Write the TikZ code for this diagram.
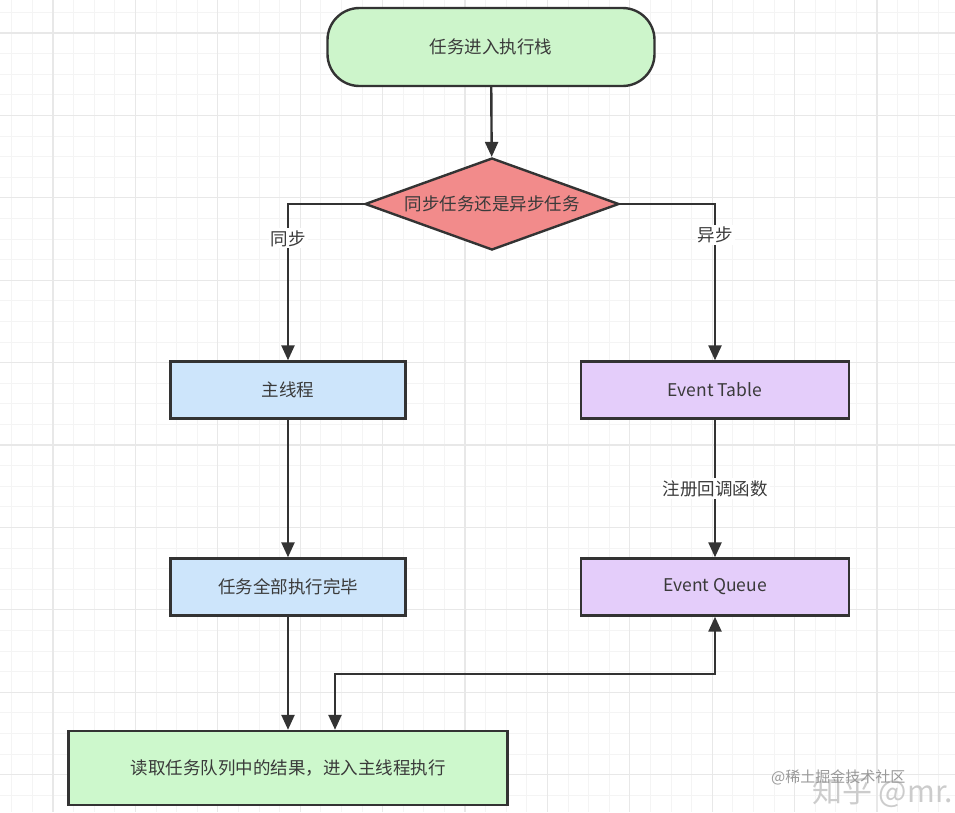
\documentclass[tikz,border=0pt]{standalone}
\usepackage{fontspec}
\setmainfont{Noto Sans CJK SC}
\usetikzlibrary{shapes.geometric,arrows.meta}
\definecolor{edgecol}{HTML}{333333}
\definecolor{txtcol}{HTML}{3A3A3A}
\definecolor{greenfill}{HTML}{CDF5CB}
\definecolor{redfill}{HTML}{F28B8B}
\definecolor{bluefill}{HTML}{CDE5FB}
\definecolor{purplefill}{HTML}{E4CDFA}
\definecolor{greenfill2}{HTML}{CDF8CC}
\definecolor{gridmajor}{HTML}{E8E8E8}
\definecolor{gridminor}{HTML}{F4F4F4}
\tikzset{
  base/.style={draw=edgecol, line width=2.4pt, text=txtcol, font=\fontsize{17.5}{20}\selectfont, inner sep=0pt},
  startbox/.style={base, fill=greenfill, rounded corners=32pt, minimum width=327pt, minimum height=78pt},
  decision/.style={base, fill=redfill, diamond, aspect=2.76, minimum width=254pt, minimum height=92pt},
  bluebox/.style={base, fill=bluefill, minimum width=235pt, minimum height=57pt},
  purplebox/.style={base, fill=purplefill, minimum width=268pt, minimum height=57pt},
  endbox/.style={base, fill=greenfill2, minimum width=439pt, minimum height=74pt},
  conn/.style={draw=edgecol, line width=2.4pt, -{Triangle[length=15pt,width=13pt]}},
  biconn/.style={draw=edgecol, line width=2.4pt, {Triangle[length=15pt,width=13pt]}-{Triangle[length=15pt,width=13pt]}},
  lbl/.style={fill=white, text=txtcol, font=\fontsize{17.5}{20}\selectfont, inner sep=2pt}
}
\begin{document}
\begin{tikzpicture}[x=1pt,y=-1pt]
\useasboundingbox (0,0) rectangle (955,812);
\fill[white] (0,0) rectangle (955,812);
% grid
\foreach \i in {-2,...,47} {
  \draw[gridminor, line width=0.8pt] ({53+\i*20.6},0) -- ({53+\i*20.6},812);
}
\foreach \i in {-2,...,40} {
  \draw[gridminor, line width=0.8pt] (0,{33+\i*20.6}) -- (955,{33+\i*20.6});
}
\foreach \i in {0,...,11} {
  \draw[gridmajor, line width=1.2pt] ({53+\i*82.4},0) -- ({53+\i*82.4},812);
}
\foreach \i in {0,...,9} {
  \draw[gridmajor, line width=1.2pt] (0,{33+\i*82.4}) -- (955,{33+\i*82.4});
}
% nodes
\node[startbox] (start) at (491,47) {任务进入执行栈};
\node[decision] (dec) at (492,204) {同步任务还是异步任务};
\node[bluebox] (main) at (288,390) {主线程};
\node[bluebox] (done) at (288,587) {任务全部执行完毕};
\node[purplebox] (table) at (715,390) {Event Table};
\node[purplebox] (queue) at (715,587) {Event Queue};
\node[endbox] (read) at (288,768) {读取任务队列中的结果，进入主线程执行};
\coordinate (b1) at (335,674);
\coordinate (b2) at (715,674);
% connectors
\draw[conn] (start) -- (dec);
\draw[conn] (dec.west) -- (dec.west -| main.north) -- (main.north) node[lbl, pos=0.22] {同步};
\draw[conn] (dec.east) -- (dec.east -| table.north) -- (table.north) node[lbl, pos=0.2] {异步};
\draw[conn] (table) -- (queue) node[lbl, midway] {注册回调函数};
\draw[conn] (main) -- (done);
\draw[conn] (done) -- (read.north -| done);
\draw[biconn] (queue.south -| b2) -- (b2) -- (b1) -- (read.north -| b1);
% watermark
\node[text=gray!40, font=\fontsize{30}{32}\selectfont, anchor=west, inner sep=0pt] (wm2) at (812,792) {知乎 @mr.};
\node[text=gray!80, font=\fontsize{15}{17}\selectfont, anchor=west, inner sep=0pt] (wm1) at (771,777) {@稀土掘金技术社区};
\end{tikzpicture}
\end{document}
